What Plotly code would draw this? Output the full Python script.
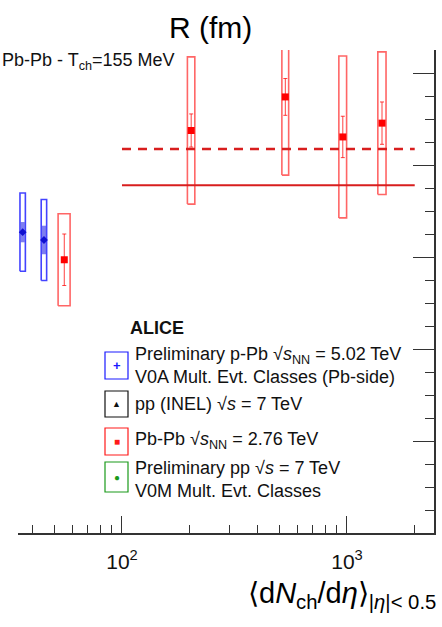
import plotly.graph_objects as go

# ---- data -------------------------------------------------------------
# Pb-Pb sqrt(sNN) = 2.76 TeV
pbpb_x = [55.4, 203, 532, 958, 1431]
pbpb_y = [5.94, 8.75, 9.48, 8.61, 8.91]
pbpb_stat = [0.56, 0.36, 0.40, 0.45, 0.46]
pbpb_sys = [1.00, 1.60, 1.70, 1.76, 1.55]
pbpb_xsys = [3.4, 7.7, 18.5, 38.0, 60.0]

# Preliminary p-Pb sqrt(sNN) = 5.02 TeV, V0A classes
ppb_x = [36.2, 45.0]
ppb_y = [6.54, 6.37]
ppb_stat = [0.22, 0.31]
ppb_sys = [0.85, 0.88]
ppb_xsys = [1.0, 1.25]

# Reference levels (Pb-Pb, T_ch = 155 MeV)
line_x = [100, 2000]
level_dashed = 8.35
level_solid = 7.56

x_major = [100, 1000]
x_major_text = ["10<sup>2</sup>", "10<sup>3</sup>"]
x_minor = [40, 50, 60, 70, 80, 90, 200, 300, 400, 500, 600, 700, 800, 900, 2000]

legend_entries = [
    ("Preliminary p-Pb √<i>s</i><sub>NN</sub> = 5.02 TeV<br>V0A Mult. Evt. Classes (Pb-side)", "#1a1aff", "<b>+</b>", 13),
    ("pp (INEL) √<i>s</i> = 7 TeV", "#111111", "▲", 9),
    ("Pb-Pb √<i>s</i><sub>NN</sub> = 2.76 TeV", "#ff1a1a", "■", 10),
    ("Preliminary pp √<i>s</i> = 7 TeV<br>V0M Mult. Evt. Classes", "#1a9a1a", "●", 10),
]

# ---- geometry ---------------------------------------------------------
W, H = 442, 627
L, R, T, B = 18, 434, 50, 533
FONT = "Liberation Sans, Arial, sans-serif"


def px(xp):
    return (xp - L) / (R - L)


def py(yp):
    return (B - yp) / (B - T)


def box_path(xs, ys, dxs, dys):
    bx, by = [], []
    for x, y, dx, dy in zip(xs, ys, dxs, dys):
        bx += [x - dx, x + dx, x + dx, x - dx, x - dx, None]
        by += [y - dy, y - dy, y + dy, y + dy, y - dy, None]
    return bx, by


fig = go.Figure()

# systematic boxes
bx, by = box_path(ppb_x, ppb_y, ppb_xsys, ppb_sys)
fig.add_trace(go.Scatter(x=bx, y=by, mode="lines",
                         line=dict(color="rgba(20,20,255,0.8)", width=1.6),
                         hoverinfo="skip", showlegend=False))
bx, by = box_path(pbpb_x, pbpb_y, pbpb_xsys, pbpb_sys)
fig.add_trace(go.Scatter(x=bx, y=by, mode="lines",
                         line=dict(color="rgba(255,20,20,0.65)", width=1.6),
                         hoverinfo="skip", showlegend=False))

# reference levels
fig.add_trace(go.Scatter(x=line_x, y=[level_solid] * 2, mode="lines",
                         line=dict(color="#d81e1e", width=2),
                         hoverinfo="skip", showlegend=False))
fig.add_trace(go.Scatter(x=line_x, y=[level_dashed] * 2, mode="lines",
                         line=dict(color="#d81e1e", width=2.5, dash="9px,7px"),
                         hoverinfo="skip", showlegend=False))

# points with statistical errors
fig.add_trace(go.Scatter(x=ppb_x, y=ppb_y, mode="markers",
                         error_y=dict(type="data", array=ppb_stat, color="rgba(40,40,230,0.6)",
                                      thickness=4, width=0),
                         marker=dict(symbol="diamond", size=6, color="#1010d0"),
                         showlegend=False))
fig.add_trace(go.Scatter(x=pbpb_x, y=pbpb_y, mode="markers",
                         error_y=dict(type="data", array=pbpb_stat, color="rgba(255,0,0,0.75)",
                                      thickness=1, width=2),
                         marker=dict(symbol="square", size=7, color="#ff0000"),
                         showlegend=False))

shapes = []
annotations = []

# legend
annotations.append(dict(x=px(128), y=py(328), xref="paper", yref="paper",
                        text="<b>ALICE</b>", showarrow=False, xanchor="left", yanchor="middle",
                        font=dict(family=FONT, size=18, color="#111")))
text_rows = [365, 404, 440, 479]
box_rows = [(352, 379), (391, 417), (428, 455), (462, 492)]
for (label, color, sym, ssize), yc, (y0, y1) in zip(legend_entries, text_rows, box_rows):
    shapes.append(dict(type="rect", xref="paper", yref="paper",
                       x0=px(105), x1=px(128), y0=py(y1), y1=py(y0),
                       line=dict(color=color, width=1.2)))
    annotations.append(dict(x=px(116.5), y=py((y0 + y1) / 2), xref="paper", yref="paper",
                            text=sym, showarrow=False, xanchor="center", yanchor="middle",
                            font=dict(family=FONT, size=ssize, color=color)))
    annotations.append(dict(x=px(133), y=py(yc), xref="paper", yref="paper",
                            text=label, showarrow=False, xanchor="left", yanchor="middle",
                            align="left",
                            font=dict(family=FONT, size=18, color="#111")))

# titles and labels
annotations.append(dict(x=px(210), y=py(28), xref="paper", yref="paper",
                        text="R (fm)", showarrow=False, xanchor="center", yanchor="middle",
                        font=dict(family=FONT, size=30, color="#000")))
annotations.append(dict(x=px(0), y=py(61), xref="paper", yref="paper",
                        text="Pb-Pb - T<sub>ch</sub>=155 MeV", showarrow=False,
                        xanchor="left", yanchor="middle",
                        font=dict(family=FONT, size=18, color="#111")))
annotations.append(dict(x=px(438), y=py(595), xref="paper", yref="paper",
                        text="⟨d<i>N</i><sub>ch</sub>/d<i>η</i>⟩<sub>|<i>η</i>|< 0.5</sub>",
                        showarrow=False, xanchor="right", yanchor="middle",
                        font=dict(family=FONT, size=29, color="#000")))

fig.update_layout(
    width=W, height=H,
    margin=dict(l=L, r=W - R, t=T, b=H - B, pad=0),
    paper_bgcolor="white", plot_bgcolor="white",
    showlegend=False,
    shapes=shapes, annotations=annotations,
    xaxis=dict(type="log", range=[1.5378, 3.3867],
               tickmode="array", tickvals=x_major, ticktext=x_major_text,
               ticks="inside", ticklen=17, tickwidth=1.3, tickcolor="#333",
               minor=dict(tickmode="array", tickvals=x_minor, ticks="inside",
                          ticklen=8, tickwidth=1.3, tickcolor="#333"),
               ticklabelstandoff=9,
               showgrid=False, zeroline=False,
               showline=True, linecolor="#333", linewidth=1.5,
               tickfont=dict(family=FONT, size=21, color="#111")),
    yaxis=dict(range=[0, 10.5], side="right", dtick=2, tick0=0,
               showticklabels=False,
               ticks="inside", ticklen=21, tickwidth=1.3, tickcolor="#333",
               minor=dict(dtick=0.5, ticks="inside", ticklen=9, tickwidth=1.3, tickcolor="#333"),
               showgrid=False, zeroline=False,
               showline=True, linecolor="#333", linewidth=1.5),
)

fig.write_html("out.html")
